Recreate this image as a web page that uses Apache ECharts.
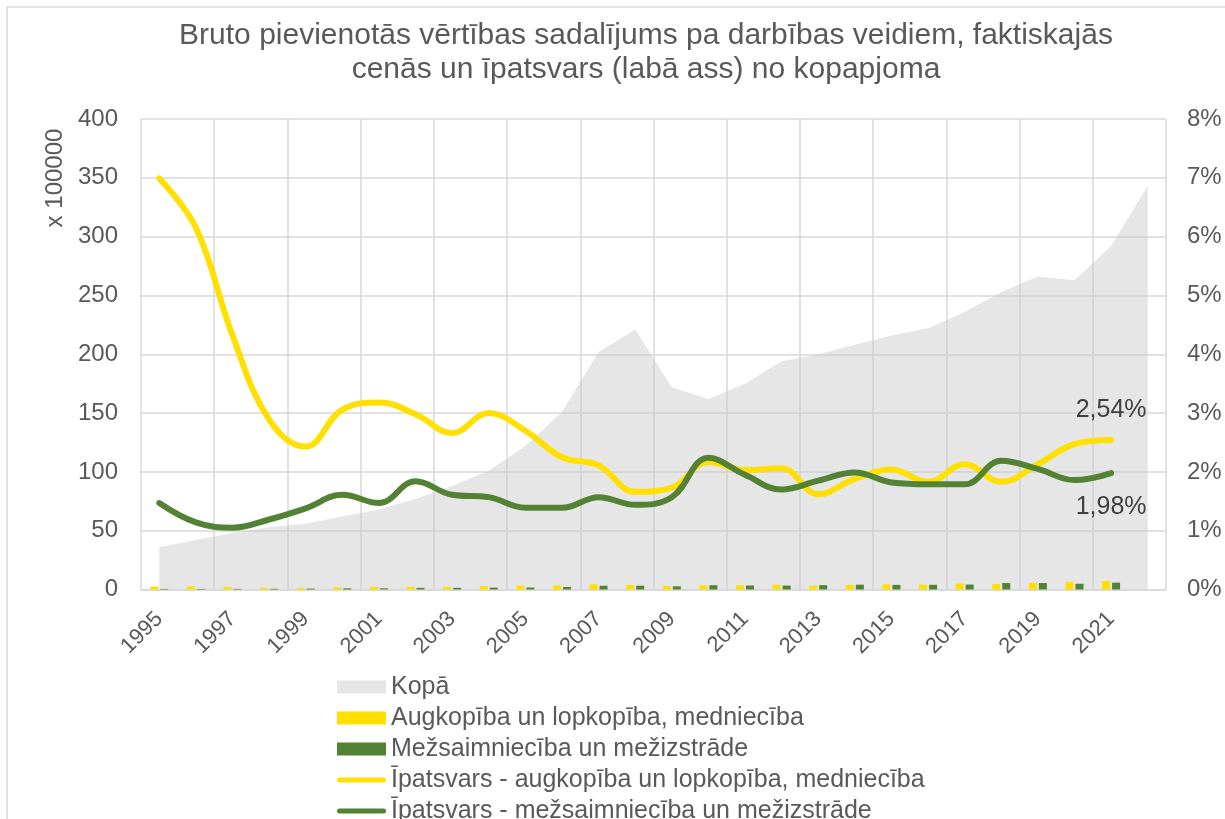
<!DOCTYPE html>
<html>
<head>
<meta charset="utf-8">
<script src="https://cdn.jsdelivr.net/npm/echarts@6/dist/echarts.min.js"></script>
<style>
  html, body { margin: 0; padding: 0; background: #fff; }
  #main { width: 1225px; height: 819px; }
</style>
</head>
<body>
<div id="main"></div>
<script>
// gadi (x ass)
var years = ['1995', '1996', '1997', '1998', '1999', '2000', '2001', '2002', '2003', '2004',
  '2005', '2006', '2007', '2008', '2009', '2010', '2011', '2012', '2013', '2014',
  '2015', '2016', '2017', '2018', '2019', '2020', '2021', '2022'];

// Kopā, x 100000
var kopa = [36, 42, 48, 53, 56, 62, 68, 77, 88, 101, 122, 151, 202, 221, 172, 162, 175, 194,
  200, 208, 216, 222, 236, 253, 266, 263, 292, 343];

// nozares, x 100000
var augkopiba = [2.5, 2.6, 2.1, 1.5, 1.4, 1.9, 2.2, 2.3, 2.3, 3.0, 3.3, 3.4, 4.3, 3.7, 3.0, 3.5,
  3.6, 4.0, 3.2, 3.9, 4.4, 4.1, 5.0, 4.6, 5.7, 6.5, 7.4];
var mezsaimnieciba = [0.5, 0.5, 0.5, 0.6, 0.8, 1.0, 1.0, 1.4, 1.4, 1.6, 1.7, 2.1, 3.2, 3.2, 2.7,
  3.6, 3.4, 3.3, 3.7, 4.1, 3.9, 4.0, 4.2, 5.5, 5.5, 4.9, 5.8];

// īpatsvars, % (labā ass)
var ipatsvarsAug = [6.99, 6.15, 4.32, 2.89, 2.43, 3.06, 3.18, 2.98, 2.66, 3.0, 2.70, 2.25, 2.11,
  1.66, 1.73, 2.17, 2.03, 2.06, 1.62, 1.88, 2.04, 1.83, 2.13, 1.83, 2.13, 2.47, 2.54];
var ipatsvarsMez = [1.47, 1.14, 1.05, 1.19, 1.38, 1.61, 1.47, 1.84, 1.61, 1.57, 1.39, 1.39, 1.57,
  1.44, 1.57, 2.24, 1.95, 1.70, 1.85, 1.99, 1.82, 1.79, 1.79, 2.19, 2.05, 1.86, 1.98];

var names = ['Kopā', 'Augkopība un lopkopība, medniecība', 'Mežsaimniecība un mežizstrāde',
  'Īpatsvars - augkopība un lopkopība, medniecība', 'Īpatsvars - mežsaimniecība un mežizstrāde'];

var FONT = "'Liberation Sans', Arial, sans-serif";
var TXT = '#595959';
var GRID = '#d9d9d9';
var YELLOW = '#FFE000';
var GREEN = '#548235';
// leģendas līnijas ikona ar noapaļotiem galiem
var LINE_ICON = 'path://M2.5,0 L46.5,0 A2.5,2.5 0 0 1 46.5,5 L2.5,5 A2.5,2.5 0 0 1 2.5,0 Z';

// pēdējam punktam uzliek vērtības etiķeti
function withLastLabel(arr, pos, dist) {
  return arr.map(function (v, i) {
    if (i !== arr.length - 1) return v;
    return {
      value: v,
      symbol: 'circle',
      symbolSize: 2,
      label: {
        show: true,
        position: pos,
        distance: dist,
        fontSize: 25,
        fontFamily: FONT,
        color: '#404040',
        formatter: function (p) { return p.value.toFixed(2).replace('.', ',') + '%'; }
      }
    };
  });
}

var chart = echarts.init(document.getElementById('main'), null, { renderer: 'canvas' });

var option = {
  animation: false,
  textStyle: { fontFamily: FONT },
  title: {
    text: 'Bruto pievienotās vērtības sadalījums pa darbības veidiem, faktiskajās\ncenās un īpatsvars (labā ass) no kopapjoma',
    left: 646,
    top: 0,
    textAlign: 'center',
    padding: [19, 0, 0, 0],
    textStyle: {
      fontSize: 30,
      fontWeight: 'normal',
      color: TXT,
      lineHeight: 34,
      fontFamily: FONT
    }
  },
  graphic: [
    {
      type: 'rect',
      silent: true,
      z: -10,
      shape: { x: 7, y: 7, width: 1300, height: 900 },
      style: { fill: 'none', stroke: GRID, lineWidth: 1.5 }
    },
    {
      type: 'text',
      x: 55,
      y: 178,
      rotation: Math.PI / 2,
      style: {
        text: 'x 100000',
        fontSize: 24,
        fontFamily: FONT,
        fill: TXT,
        align: 'center',
        verticalAlign: 'middle'
      }
    }
  ],
  legend: {
    orient: 'vertical',
    left: 337,
    top: 674,
    height: 300,
    padding: 0,
    itemWidth: 49,
    itemHeight: 13,
    itemGap: 5,
    selectedMode: false,
    textStyle: { fontSize: 25, color: TXT, fontFamily: FONT, lineHeight: 26 },
    data: [
      { name: names[0], icon: 'rect' },
      { name: names[1], icon: 'rect' },
      { name: names[2], icon: 'rect' },
      { name: names[3], icon: LINE_ICON },
      { name: names[4], icon: LINE_ICON }
    ]
  },
  grid: { left: 141, right: 59, top: 119, bottom: 229.5, containLabel: false },
  xAxis: {
    type: 'category',
    data: years,
    boundaryGap: true,
    axisLine: { show: true, lineStyle: { color: GRID, width: 1.5 } },
    axisTick: { show: false },
    splitLine: { show: true, lineStyle: { color: GRID, width: 1.5 } },
    axisLabel: {
      interval: 1,
      rotate: 45,
      margin: 26,
      fontSize: 22,
      color: TXT,
      fontFamily: FONT
    }
  },
  yAxis: [
    {
      type: 'value',
      min: 0,
      max: 400,
      interval: 50,
      axisLine: { show: false },
      axisTick: { show: false },
      splitLine: { show: true, lineStyle: { color: GRID, width: 1.5 } },
      axisLabel: { fontSize: 24, color: TXT, margin: 23, fontFamily: FONT }
    },
    {
      type: 'value',
      min: 0,
      max: 8,
      interval: 1,
      position: 'right',
      axisLine: { show: false },
      axisTick: { show: false },
      splitLine: { show: false },
      axisLabel: { fontSize: 24, color: TXT, margin: 21, fontFamily: FONT, formatter: '{value}%' }
    }
  ],
  series: [
    {
      name: names[0],
      type: 'line',
      data: kopa,
      symbol: 'none',
      smooth: false,
      itemStyle: { color: 'rgba(200,200,200,0.45)' },
      lineStyle: { width: 0 },
      areaStyle: { color: 'rgba(200,200,200,0.45)', opacity: 1 },
      z: 1
    },
    {
      name: names[1],
      type: 'bar',
      data: augkopiba,
      barWidth: 8,
      barGap: '25%',
      itemStyle: { color: YELLOW },
      z: 2
    },
    {
      name: names[2],
      type: 'bar',
      data: mezsaimnieciba,
      barWidth: 8,
      itemStyle: { color: GREEN },
      z: 2
    },
    {
      name: names[3],
      type: 'line',
      yAxisIndex: 1,
      data: withLastLabel(ipatsvarsAug, 'top', 17),
      symbol: 'none',
      smooth: 0.4,
      itemStyle: { color: YELLOW },
      lineStyle: { color: YELLOW, width: 6, cap: 'round' },
      z: 3
    },
    {
      name: names[4],
      type: 'line',
      yAxisIndex: 1,
      data: withLastLabel(ipatsvarsMez, 'bottom', 21),
      symbol: 'none',
      smooth: 0.4,
      itemStyle: { color: GREEN },
      lineStyle: { color: GREEN, width: 6, cap: 'round' },
      z: 4
    }
  ]
};

chart.setOption(option);
</script>
</body>
</html>
